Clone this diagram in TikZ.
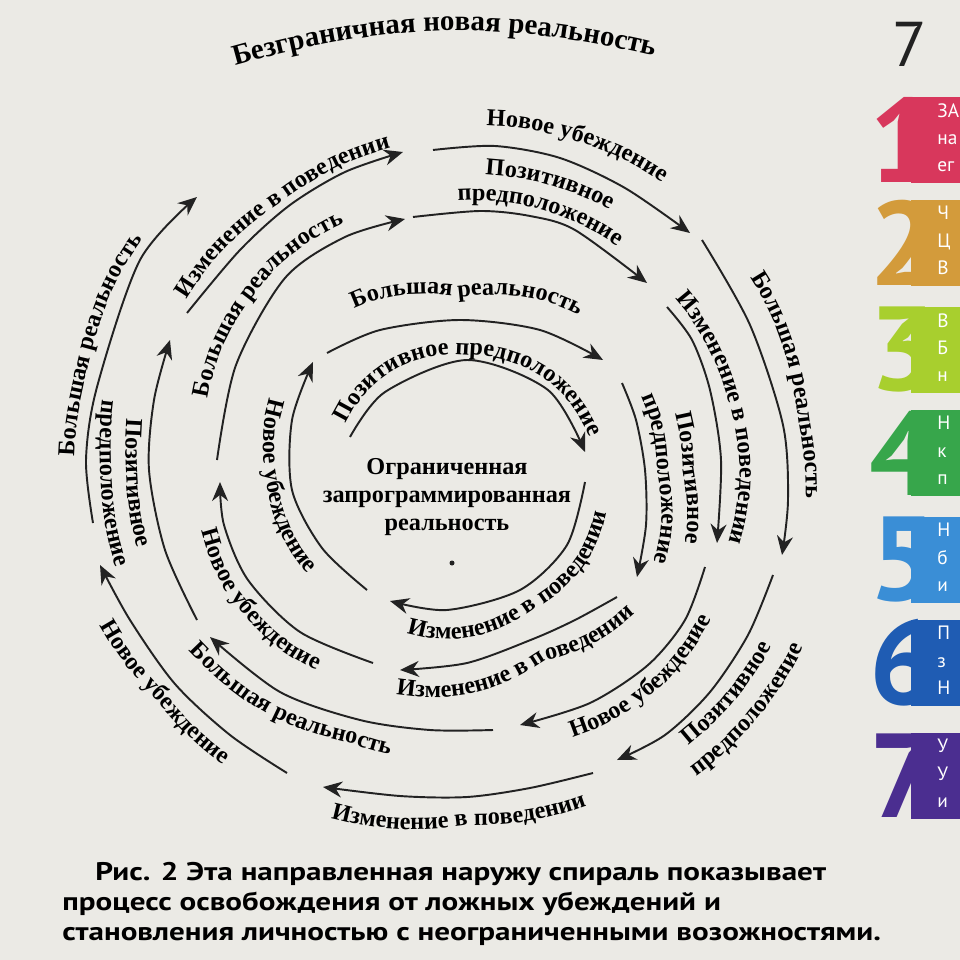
\documentclass[tikz,border=0pt]{standalone}
\usepackage{fontspec}
\setmainfont{Liberation Serif}
\newfontfamily\capfont{PT Sans}
\newfontfamily\capwide{PT Sans}[FakeStretch=1.22]
\usetikzlibrary{arrows.meta,calc,decorations.text}

\definecolor{paper}{HTML}{EBEAE5}
\definecolor{ink}{HTML}{222222}
\definecolor{tabone}{HTML}{D8375C}
\definecolor{tabtwo}{HTML}{D39B3B}
\definecolor{tabthree}{HTML}{A8CF2E}
\definecolor{tabfour}{HTML}{37A64B}
\definecolor{tabfive}{HTML}{3A8ED6}
\definecolor{tabsix}{HTML}{1F5CB3}
\definecolor{tabseven}{HTML}{4B2E90}

\newcommand{\lblfont}{\fontsize{13.8}{16}\selectfont\bfseries}
\newcommand{\ttlfont}{\fontsize{16.5}{19}\selectfont\bfseries}

\tikzset{
  seg/.style={draw=ink, line width=1.1pt, -{Stealth[length=3.8mm,width=3.2mm]}},
  lab/.style={decorate, decoration={text along path, text align=center, text={|\lblfont|#1}}},
  ttl/.style={decorate, decoration={text along path, text align=center, text={|\ttlfont|#1}}},
  caption/.style={anchor=base west, inner sep=0pt, font=\capwide\bfseries\fontsize{14.5}{16}\selectfont},
}

\begin{document}
\begin{tikzpicture}[x=0.2mm, y=-0.2mm]
  \useasboundingbox (0,0) rectangle (960,960);
  \clip (0,0) rectangle (960,960);
  \fill[paper] (0,0) rectangle (960,960);
  \coordinate (c) at (455,480);

  % spiral points, five per arrow
  \foreach \s/\k/\x/\y in {1/a/350/437, 1/b/385/392, 1/c/467/360, 1/d/548/390, 1/e/585/452,
      2/a/585/482, 2/b/567/545, 2/c/520/590, 2/d/447/610, 2/e/390/601,
      3/a/367/590, 3/b/322/548, 3/c/292/490, 3/d/292/420, 3/e/313/362,
      4/a/327/353, 4/b/380/330, 4/c/460/320, 4/d/540/330, 4/e/603/360,
      5/a/622/383, 5/b/636/420, 5/c/645/470, 5/d/646/525, 5/e/637/577,
      6/a/617/597, 6/b/575/620, 6/c/533/639, 6/d/467/663, 6/e/400/670,
      7/a/373/663, 7/b/300/632, 7/c/248/580, 7/d/224/525, 7/e/220/482,
      8/a/217/460, 8/b/236/365, 8/c/285/278, 8/d/345/237, 8/e/405/219,
      9/a/413/217, 9/b/480/211, 9/c/530/216, 9/d/575/230, 9/e/647/283,
      10/a/667/307, 10/b/692/340, 10/c/710/390, 10/d/721/460, 10/e/717/543,
      11/a/705/567, 11/b/685/620, 11/c/648/665, 11/d/590/703, 11/e/520/725,
      12/a/493/730, 12/b/430/730, 12/c/360/720, 12/d/280/692, 12/e/210/637,
      13/a/197/620, 13/b/165/550, 13/c/149/470, 13/d/154/400, 13/e/170/340,
      14/a/187/313, 14/b/240/250, 14/c/290/205, 14/d/345/172, 14/e/403/152,
      15/a/433/150, 15/b/495/146, 15/c/560/158, 15/d/625/188, 15/e/690/233,
      16/a/702/240, 16/b/750/325, 16/c/783/425, 16/d/788/500, 16/e/782/555,
      17/a/773/575, 17/b/748/635, 17/c/710/692, 17/d/665/735, 17/e/617/760,
      18/a/593/773, 18/b/530/788, 18/c/467/797, 18/d/400/796, 18/e/323/787,
      19/a/287/773, 19/b/230/735, 19/c/175/684, 19/d/130/620, 19/e/100/565,
      20/a/93/523, 20/b/86/460, 20/c/97/387, 20/d/140/260, 20/e/197/197}
    \coordinate (p\s-\k) at (\x,\y);

  % label base lines, pushed out from the centre
  \foreach \s/\d in {1/1mm, 2/4.8mm, 3/4.8mm, 4/4.6mm, 5/2.4mm, 6/5mm, 7/5mm, 8/2.6mm, 9/1.8mm, 10/3mm,
      11/5mm, 12/5mm, 13/4.6mm, 14/1.4mm, 15/4.2mm, 16/3.2mm, 17/5mm, 18/5.6mm, 19/5mm, 20/2.6mm}
    \foreach \k in {a,c,e}
      \coordinate (q\s-\k) at ($(p\s-\k)!-\d!(c)$);
  \foreach \s/\d in {5/7.6mm, 9/7mm, 13/9.8mm, 17/10.8mm}
    \foreach \k in {a,c,e}
      \coordinate (r\s-\k) at ($(p\s-\k)!-\d!(c)$);
  \coordinate (q1-a) at (339,444);
  \coordinate (q1-e) at (596,458);
  \coordinate (q10-f) at ($(p11-a)!-3mm!(c)$);

  % arrows of the spiral
  \foreach \s in {1,...,20}
    \draw[seg] plot[smooth] coordinates {(p\s-a) (p\s-b) (p\s-c) (p\s-d) (p\s-e)};

  % labels
  \path[lab={Позитивное предположение}] (q1-a) to[bend left=40] (q1-c) to[bend left=38] (q1-e);
  \path[lab={Изменение в поведении}] (q2-e) to[bend right=30] (q2-c) to[bend right=30] (q2-a);
  \path[lab={Новое убеждение}] (q3-e) to[bend right=22] (q3-c) to[bend right=24] (q3-a);
  \path[lab={Большая реальность}] (q4-a) to[bend left=24] (q4-c) to[bend left=24] (q4-e);
  \path[lab={Позитивное}] (r5-a) to[bend left=13] (r5-c) to[bend left=15] (r5-e);
  \path[lab={предположение}] (q5-a) to[bend left=13] (q5-c) to[bend left=15] (q5-e);
  \path[lab={Изменение в поведении}] (q6-e) to[bend right=21] (q6-c) to[bend right=14] (q6-a);
  \path[lab={Новое убеждение}] (q7-e) to[bend right=12] (q7-c) to[bend right=20] (q7-a);
  \path[lab={Большая реальность}] (q8-a) to[bend left=22] (q8-c) to[bend left=15] (q8-e);
  \path[lab={Позитивное}] (r9-a) to[bend left=12] (r9-c) to[bend left=14] (r9-e);
  \path[lab={предположение}] (q9-a) to[bend left=12] (q9-c) to[bend left=14] (q9-e);
  \path[lab={Изменение в поведении}] (q9-e) to[bend left=13] (q10-c) to[bend left=19] (q10-f);
  \path[lab={Новое убеждение}] (q11-e) to[bend right=15] (q11-c) to[bend right=12] (q11-a);
  \path[lab={Большая реальность}, decoration={text align=left}] (q12-e) to[bend right=17] (q12-c) to[bend right=15] (q12-a);
  \path[lab={Позитивное}] (q13-e) to[bend right=12] (q13-c) to[bend right=15] (q13-a);
  \path[lab={предположение}] (r13-e) to[bend right=12] (r13-c) to[bend right=15] (r13-a);
  \path[lab={Изменение в поведении}] (q14-a) to[bend left=13] (q14-c) to[bend left=11] (q14-e);
  \path[lab={Новое убеждение}] (q15-a) to[bend left=11] (q15-c) to[bend left=13] (q15-e);
  \path[lab={Большая реальность}] (q16-a) to[bend left=17] (q16-c) to[bend left=11] (q16-e);
  \path[lab={Позитивное}] (q17-e) to[bend right=10] (q17-c) to[bend right=11] (q17-a);
  \path[lab={предположение}] (r17-e) to[bend right=10] (r17-c) to[bend right=11] (r17-a);
  \path[lab={Изменение в поведении}] (q18-e) to[bend right=12] (q18-c) to[bend right=11] (q18-a);
  \path[lab={Новое убеждение}] (q19-e) to[bend right=11] (q19-c) to[bend right=12] (q19-a);
  \path[lab={Большая реальность}] (q20-a) to[bend left=11] (q20-c) to[bend left=17] (q20-e);

  % title and centre
  \coordinate (ttlL) at (220,70);
  \coordinate (ttlR) at (670,60);
  \path[ttl={Безграничная новая реальность}] (ttlL) to[bend left=15] (ttlR);
  \node[font=\lblfont, align=center, inner sep=0pt] (core) at (447,497) {Ограниченная\\запрограммированная\\реальность};
  \fill[ink] (452,563) circle[radius=0.5mm];

  % caption
  \node[caption] (capA) at (95,880) {Рис. 2 Эта направленная наружу спираль показывает};
  \node[caption] (capB) at (62,910) {процесс освобождения от ложных убеждений и};
  \node[caption] (capC) at (62,940) {становления личностью с неограниченными возожностями.};

  % tabs on the page edge
  \foreach \k/\col/\t/\la/\lb/\lc in {1/tabone/97/ЗА/на/ег, 2/tabtwo/200/Ч/Ц/В, 3/tabthree/307/В/Б/н,
      4/tabfour/410/Н/к/п, 5/tabfive/517/Н/б/и, 6/tabsix/620/П/з/Н, 7/tabseven/733/У/У/и} {
    \fill[\col] (911,\t) rectangle (960,\t+86);
    \node[text=\col, font=\capfont\bfseries\fontsize{68}{68}\selectfont, inner sep=0pt] (digit\k) at (903,\t+43) {\k};
    \node[text=white, font=\capfont\fontsize{11}{15.5}\selectfont, anchor=north west, align=left, inner sep=0pt] (tabtxt\k) at (937,\t+6) {\la\\\lb\\\lc};
  }
  \node[text=ink, font=\capfont\fontsize{36}{36}\selectfont, inner sep=0pt] (pagenum) at (910,44) {7};
\end{tikzpicture}
\end{document}
